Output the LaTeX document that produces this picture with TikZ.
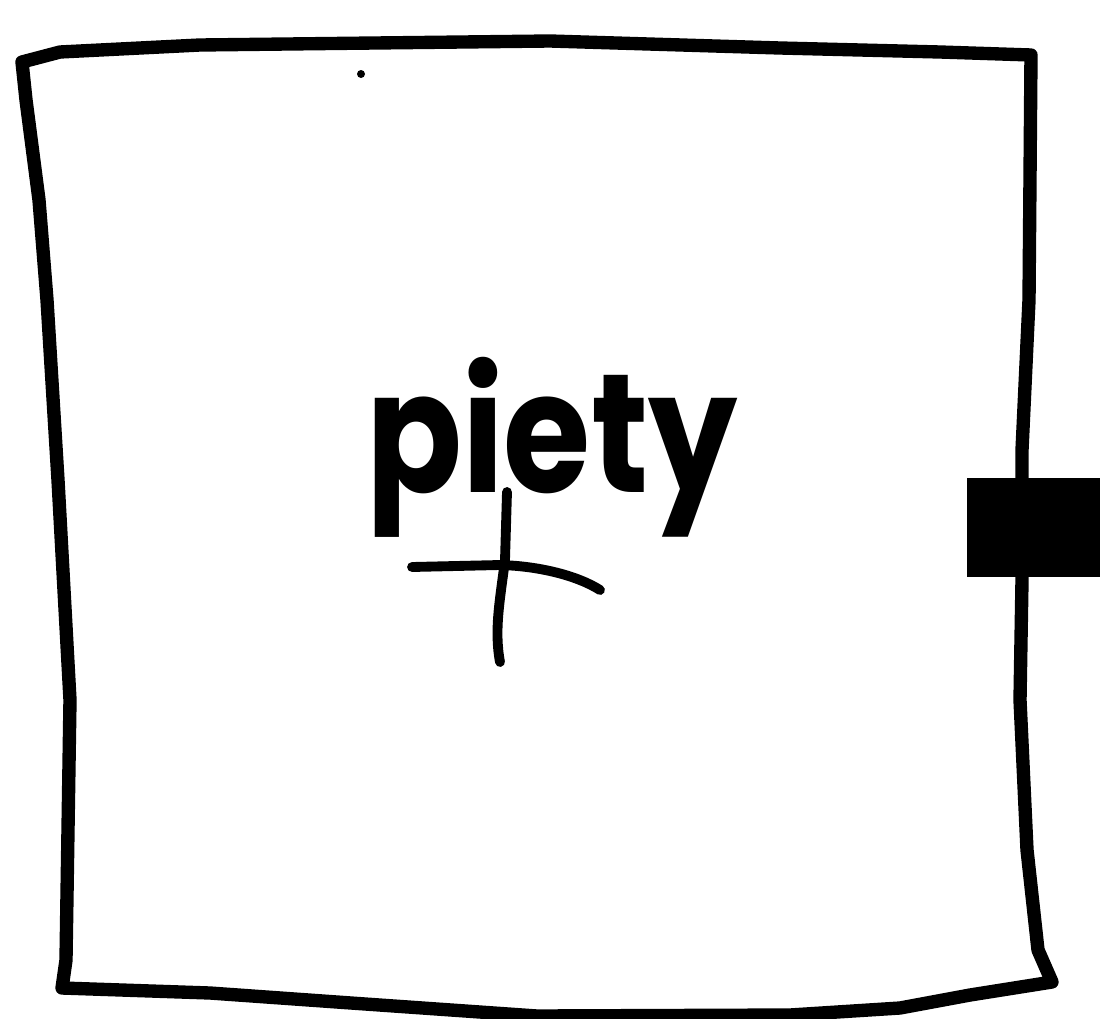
\documentclass[tikz,border=0pt]{standalone}
\usepackage{fontspec}
\setmainfont{Poppins}
\usepackage{tikz}
\usetikzlibrary{positioning}

\tikzset{
	sketch/.style={line width=3.8pt, line join=round, line cap=round},
	crossline/.style={line width=2.8pt, line cap=round},
}

\begin{document}
\begin{tikzpicture}[x=0.01cm, y=-0.01cm]
			\useasboundingbox (0, 0) rectangle (1100, 1018);
			% Paths, nodes and wires:
			\draw[sketch] (22, 62) -- (60, 52) -- (200, 45) -- (550, 41) -- (780, 48) -- (940, 52) -- (1031, 55)
				-- (1029, 300) -- (1022, 450) -- (1022, 580) -- (1020, 700) -- (1027, 850) -- (1038, 950) -- (1052, 982)
				-- (970, 995) -- (900, 1008) -- (790, 1015) -- (537, 1016) -- (351, 1003) -- (210, 993) -- (62, 988)
				-- (66, 960) -- (70, 700) -- (58, 480) -- (47, 300) -- (39, 200) -- (26, 100) -- cycle;
			\fill (361, 74) circle (4);
			\node[inner sep=0pt, anchor=base](N1) at (552, 492){\scalebox{0.82}[0.98]{\fontsize{49}{50}\selectfont\bfseries piety}};
			\draw[crossline] (412, 567) -- (500, 565) .. controls (540, 566) and (578, 576) .. (600, 590);
			\draw[crossline] (507, 492) -- (505, 560) .. controls (500, 600) and (494, 630) .. (500, 662);
			\fill (967, 478) rectangle (1100, 577);
		\end{tikzpicture}
\end{document}
